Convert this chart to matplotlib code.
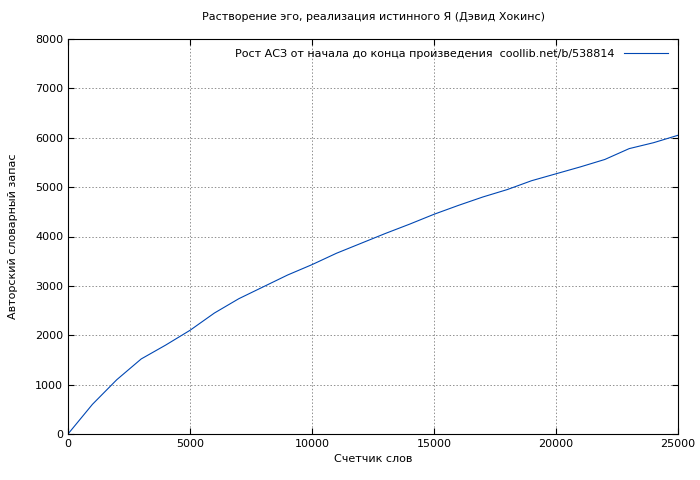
import matplotlib
matplotlib.use("Agg")
import matplotlib.pyplot as plt

words = [0,1000,2000,3000,4000,5000,6000,7000,8000,9000,10000,11000,12000,13000,14000,15000,16000,17000,18000,19000,20000,21000,22000,23000,24000,25000]
vocab = [0,600,1100,1520,1800,2100,2450,2740,2980,3220,3430,3660,3860,4060,4250,4450,4630,4800,4950,5130,5270,5410,5560,5780,5900,6050]

plt.rcParams['font.family'] = ['DejaVu Sans']
plt.rcParams['font.size'] = 8
fig = plt.figure(figsize=(7, 4.8), dpi=100)
ax = fig.add_axes([68/700, 1-434/480, 610/700, 395/480])
ax.plot(words, vocab, color='#0047b3', lw=0.8, label='Рост АСЗ от начала до конца произведения  coollib.net/b/538814')
ax.set_xlim(0, 25000)
ax.set_ylim(0, 8000)
ax.set_xticks(range(0, 25001, 5000))
ax.set_yticks(range(0, 8001, 1000))
ax.grid(True, color='#909090', linestyle=(0, (1.5, 2)), lw=0.7)
ax.tick_params(direction='in', length=4, top=True, right=True)
ax.set_xlabel('Счетчик слов')
ax.set_ylabel('Авторский словарный запас', labelpad=12)
ax.set_title('Растворение эго, реализация истинного Я (Дэвид Хокинс)', fontsize=8, pad=14)
leg = ax.legend(loc='upper right', frameon=False, markerfirst=False, handlelength=4)
fig.savefig('out.png', dpi=100)
